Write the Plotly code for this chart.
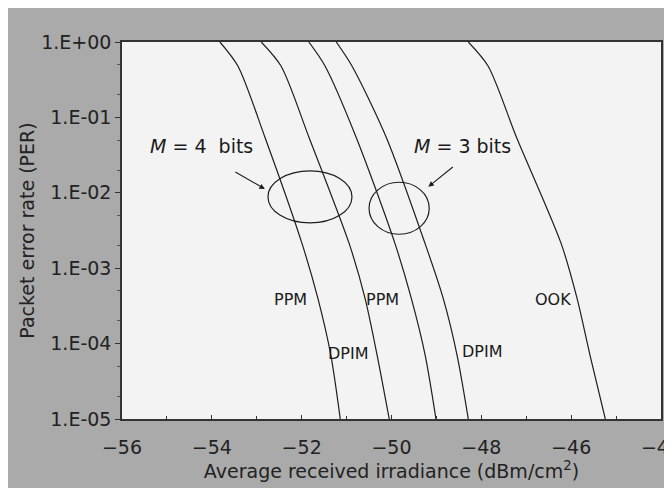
import plotly.graph_objects as go

# Shared PER levels (y values) at which curves were read
per = [1.0, 0.48, 0.055, 2.1e-3, 4e-4, 7e-5, 1e-5]

# Irradiance (dBm/cm^2) for each curve at the PER levels above
ppm_m4 = [-53.82, -53.42, -52.82, -51.99, -51.64, -51.35, -51.14]
dpim_m4 = [-52.90, -52.46, -51.84, -50.94, -50.59, -50.32, -50.05]
ppm_m3 = [-51.84, -51.48, -50.79, -49.92, -49.56, -49.25, -49.01]
dpim_m3 = [-51.23, -50.88, -50.12, -49.25, -48.85, -48.54, -48.29]
ook = [-48.29, -47.85, -47.22, -46.22, -45.87, -45.58, -45.24]

series = [ppm_m4, dpim_m4, ppm_m3, dpim_m3, ook]
names = ["PPM (M=4)", "DPIM (M=4)", "PPM (M=3)", "DPIM (M=3)", "OOK"]

y_tickvals = [1, 1e-1, 1e-2, 1e-3, 1e-4, 1e-5]
y_ticktext = ["1.E+00", "1.E-01", "1.E-02", "1.E-03", "1.E-04", "1.E-05"]
x_tickvals = [-56, -54, -52, -50, -48, -46, -44]

# curve labels: (text, x, log10 y)
curve_labels = [("PPM", -52.24, -3.42), ("DPIM", -50.96, -4.13),
                ("PPM", -50.20, -3.42), ("DPIM", -47.97, -4.10),
                ("OOK", -46.41, -3.42)]

fig = go.Figure()
for xs, nm in zip(series, names):
    fig.add_trace(go.Scatter(x=xs, y=per, mode="lines", name=nm,
                             line=dict(color="#1e1e1e", width=1.2, shape="spline", smoothing=0.8),
                             showlegend=False))

font = "DejaVu Sans, sans-serif"
for t, x, ly in curve_labels:
    fig.add_annotation(x=x, y=ly, text=t, showarrow=False,
                       font=dict(family=font, size=16, color="#1a1a1a"))

# Ellipses (data values)
fig.add_shape(type="circle", xref="x", yref="y", x0=-52.75, x1=-50.88,
              y0=10**-2.40, y1=10**-1.71, line=dict(color="#1e1e1e", width=1.2))
fig.add_shape(type="circle", xref="x", yref="y", x0=-50.50, x1=-49.16,
              y0=10**-2.55, y1=10**-1.86, line=dict(color="#1e1e1e", width=1.2))

fig.add_annotation(x=-54.22, y=-1.38, text="<i>M</i> = 4  bits", showarrow=False,
                   font=dict(family=font, size=19, color="#1a1a1a"))
fig.add_annotation(x=-48.41, y=-1.38, text="<i>M</i> = 3 bits", showarrow=False,
                   font=dict(family=font, size=19, color="#1a1a1a"))
fig.add_annotation(x=-52.82, y=-1.95, text="", showarrow=True, ax=-31, ay=-18,
                   arrowhead=2, arrowsize=1, arrowwidth=1.1, arrowcolor="#1e1e1e")
fig.add_annotation(x=-49.18, y=-1.92, text="", showarrow=True, ax=26, ay=-21,
                   arrowhead=2, arrowsize=1, arrowwidth=1.1, arrowcolor="#1e1e1e")

fig.update_layout(
    width=672, height=488,
    margin=dict(l=114, r=19, t=34, b=77, autoexpand=False),
    paper_bgcolor="#aaaaaa",
    plot_bgcolor="#f3f3f3",
    font=dict(family=font, size=19, color="#222222"),
)
fig.update_xaxes(range=[-56, -44], tickvals=x_tickvals, showgrid=False, zeroline=False,
                 showline=True, linecolor="#333333", linewidth=1.5, mirror=True,
                 ticks="inside", ticklen=4, tickcolor="#333333",
                 minor=dict(dtick=1, ticks="inside", ticklen=3, tickcolor="#333333"),
                 ticklabelstandoff=10, ticklabeloverflow="allow", automargin=False,
                 title=dict(text="Average received irradiance (dBm/cm<sup>2</sup>)", standoff=2,
                            font=dict(size=19)),
                 tickfont=dict(size=19))
fig.update_yaxes(type="log", range=[-5, 0], tickvals=y_tickvals, ticktext=y_ticktext,
                 showgrid=False, zeroline=False, automargin=False,
                 showline=True, linecolor="#333333", linewidth=1.5, mirror=True,
                 ticks="outside", ticklen=5, tickcolor="#333333",
                 minor=dict(ticks="outside", ticklen=3, tickcolor="#555555"),
                 title=dict(text="Packet error rate (PER)", standoff=2, font=dict(size=19)),
                 tickfont=dict(size=19))

fig.write_html("out.html")
